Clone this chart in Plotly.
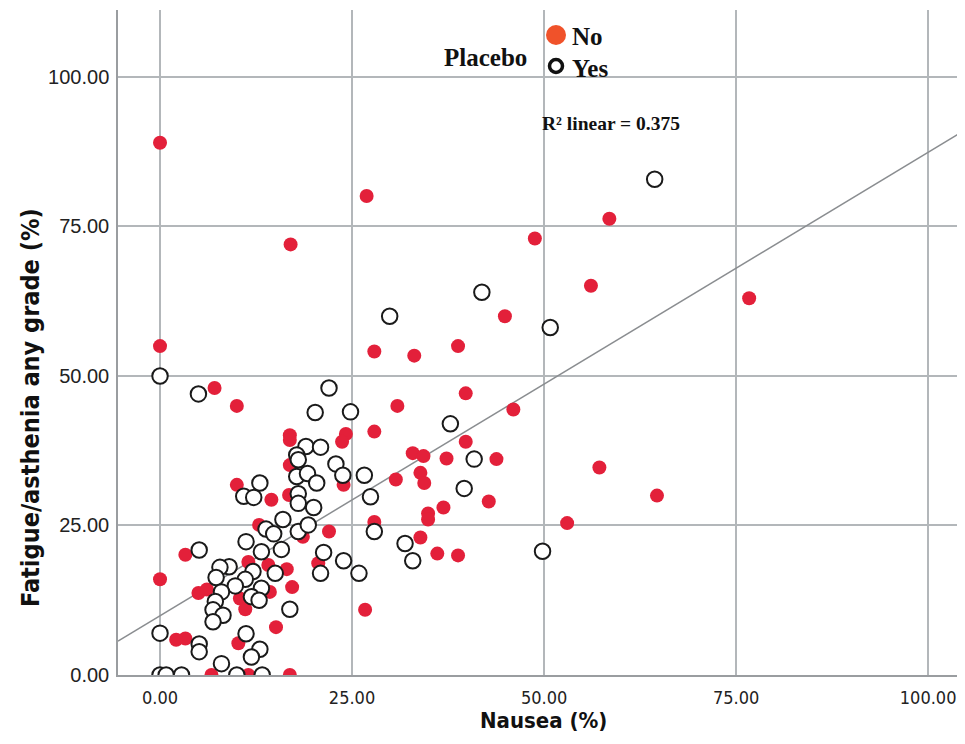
import plotly.graph_objects as go

# ---- data ----
no_x = [0, 26.9, 17.0, 58.5, 48.8, 76.7, 56.1, 44.9, 0, 27.9, 33.1, 38.8, 7.1, 10.0,
        39.8, 30.9, 46.0, 16.9, 16.9, 24.2, 23.7, 27.9, 39.8, 32.9, 34.3, 37.3, 43.8,
        16.9, 33.9, 30.7, 34.4, 23.9, 10.0, 14.5, 16.8, 42.8, 36.9, 34.9, 34.9, 57.2,
        64.7, 53.0, 27.9, 12.9, 22.0, 18.6, 33.9, 36.1, 38.8, 3.3, 11.5, 14.1, 20.6,
        16.5, 0, 17.2, 14.3, 5.0, 6.1, 10.4, 11.1, 26.7, 15.1, 3.3, 2.1, 10.2, 6.7,
        11.5, 16.9]
no_y = [89.0, 80.1, 72.0, 76.3, 73.0, 63.0, 65.1, 60.0, 55.0, 54.1, 53.4, 55.0, 48.0, 45.0,
        47.1, 45.0, 44.4, 40.1, 39.3, 40.3, 39.0, 40.7, 39.0, 37.1, 36.6, 36.2, 36.1,
        35.1, 33.8, 32.7, 32.1, 31.8, 31.8, 29.3, 30.1, 29.0, 28.0, 27.0, 26.0, 34.7,
        30.0, 25.4, 25.6, 25.1, 24.0, 23.1, 23.0, 20.3, 20.0, 20.1, 18.9, 18.4, 18.7,
        17.7, 16.0, 14.7, 13.9, 13.7, 14.3, 12.8, 11.0, 10.9, 8.0, 6.1, 5.9, 5.3, 0,
        0, 0]

yes_x = [64.4, 41.9, 29.9, 50.8, 0, 5.0, 22.0, 20.2, 24.8, 37.8, 19.0, 20.9, 17.8, 18.0,
         22.9, 40.9, 23.8, 26.6, 17.8, 19.2, 20.4, 13.0, 39.6, 18.0, 27.4, 10.9, 12.2,
         18.0, 20.0, 16.0, 13.8, 14.8, 18.0, 19.3, 27.9, 11.2, 15.8, 13.2, 5.1, 21.3,
         23.9, 20.9, 25.9, 31.9, 32.9, 49.8, 9.0, 7.8, 12.1, 15.0, 7.3, 11.1, 9.8, 13.2,
         8.0, 11.9, 12.9, 7.2, 6.9, 8.2, 6.9, 16.9, 0, 5.1, 5.1, 11.2, 13.0, 11.9, 8.0,
         0, 0.8, 2.8, 10.0, 13.3]
yes_y = [82.9, 64.0, 60.0, 58.1, 50.0, 47.0, 48.0, 43.9, 44.0, 42.0, 38.2, 38.1, 36.8, 36.0,
         35.3, 36.1, 33.4, 33.4, 33.2, 33.7, 32.1, 32.1, 31.2, 30.3, 29.8, 29.9, 29.7,
         28.7, 28.0, 26.0, 24.4, 23.6, 24.0, 25.1, 24.0, 22.3, 21.0, 20.6, 20.9, 20.5,
         19.1, 17.0, 17.0, 22.0, 19.1, 20.7, 18.1, 18.0, 17.3, 17.0, 16.3, 16.0, 14.9, 14.5,
         13.9, 13.1, 12.5, 12.3, 10.9, 10.0, 8.9, 11.0, 7.0, 5.2, 3.9, 6.9, 4.3, 3.0, 1.9,
         0, 0, 0, 0, 0]

fit_intercept = 9.9
fit_slope = 0.775
r2_text = "R\u00b2 linear = 0.375"

x_ticks = [0, 25, 50, 75, 100]
x_tick_labels = ["0.00", "25.00", "50.00", "75.00", "100.00"]
y_ticks = [0, 25, 50, 75, 100]
y_tick_labels = ["0.00", "25.00", "50.00", "75.00", "100.00"]

x_range = [-5.47, 104.8]
y_range = [0, 111.2]

RED = "#e3203a"
GRID = "#b3b7ba"
COND = "DejaVu Sans Condensed, Liberation Sans"
SERIF = "Liberation Serif"

fig = go.Figure()

fit_x = list(x_range)
fit_y = [fit_intercept + fit_slope * v for v in fit_x]
fig.add_trace(go.Scatter(x=fit_x, y=fit_y, mode="lines",
                         line=dict(color="#8a8d90", width=1.5), showlegend=False,
                         hoverinfo="skip"))

fig.add_trace(go.Scatter(x=no_x, y=no_y, mode="markers", name="No", showlegend=False,
                         marker=dict(size=14, color=RED, line=dict(width=0))))
fig.add_trace(go.Scatter(x=yes_x, y=yes_y, mode="markers", name="Yes", showlegend=False,
                         marker=dict(size=15.5, color="white",
                                     line=dict(width=2, color="#1a1a1a"))))

# plot area in page pixels: x 118..965, y 10..675 (page has an 8px body margin)
def px_to_paper_x(px):
    return (px - 118) / 847.0

def py_to_paper_y(py):
    return (675 - py) / 665.0

shapes = [
    dict(type="circle", xref="paper", yref="paper", xsizemode="pixel", ysizemode="pixel",
         xanchor=px_to_paper_x(556), yanchor=py_to_paper_y(35),
         x0=-10, x1=10, y0=-10, y1=10, fillcolor="#f0522a", line=dict(width=0)),
    dict(type="circle", xref="paper", yref="paper", xsizemode="pixel", ysizemode="pixel",
         xanchor=px_to_paper_x(556), yanchor=py_to_paper_y(66),
         x0=-6.5, x1=6.5, y0=-6.5, y1=6.5, fillcolor="white", line=dict(width=3.5, color="#111")),
]

annotations = [
    dict(text="<b>No</b>", xref="paper", yref="paper", x=px_to_paper_x(570), y=py_to_paper_y(36),
         xanchor="left", yanchor="middle", showarrow=False,
         font=dict(family=SERIF, size=25, color="#111")),
    dict(text="<b>Yes</b>", xref="paper", yref="paper", x=px_to_paper_x(570), y=py_to_paper_y(68),
         xanchor="left", yanchor="middle", showarrow=False,
         font=dict(family=SERIF, size=25, color="#111")),
    dict(text="<b>Placebo</b>", xref="paper", yref="paper", x=px_to_paper_x(529), y=py_to_paper_y(57),
         xanchor="right", yanchor="middle", showarrow=False,
         font=dict(family=SERIF, size=25, color="#111")),
    dict(text="<b>" + r2_text + "</b>", xref="paper", yref="paper", x=px_to_paper_x(540),
         y=py_to_paper_y(124), xanchor="left", yanchor="middle", showarrow=False,
         font=dict(family=SERIF, size=19.5, color="#111")),
    dict(text="<b>Nausea (%)</b>", xref="paper", yref="paper", x=px_to_paper_x(543),
         y=py_to_paper_y(720), xanchor="center", yanchor="middle", showarrow=False,
         font=dict(family=COND, size=22, color="#111")),
    dict(text="<b>Fatigue/asthenia any grade (%)</b>", xref="paper", yref="paper",
         x=px_to_paper_x(30), y=py_to_paper_y(408), xanchor="center", yanchor="middle",
         textangle=-90, showarrow=False,
         font=dict(family=COND, size=25, color="#111")),
]

fig.update_layout(
    width=957, height=736,
    margin=dict(l=110, r=0, t=2, b=69),
    paper_bgcolor="white", plot_bgcolor="white",
    shapes=shapes, annotations=annotations,
    xaxis=dict(range=x_range, tickvals=x_ticks, ticktext=x_tick_labels,
               showgrid=True, gridcolor=GRID, gridwidth=1.5, zeroline=False,
               showline=True, linecolor="#9a9da0", linewidth=1.5, ticks="",
               tickfont=dict(family=COND, size=18, color="#222"), ticklabelstandoff=6),
    yaxis=dict(range=y_range, tickvals=y_ticks, ticktext=y_tick_labels,
               showgrid=True, gridcolor=GRID, gridwidth=1.5, zeroline=False,
               showline=True, linecolor="#9a9da0", linewidth=1.5, ticks="",
               tickfont=dict(family="Liberation Sans, Arial", size=20, color="#222"),
               ticklabelstandoff=3),
)

fig.write_html("out.html")
